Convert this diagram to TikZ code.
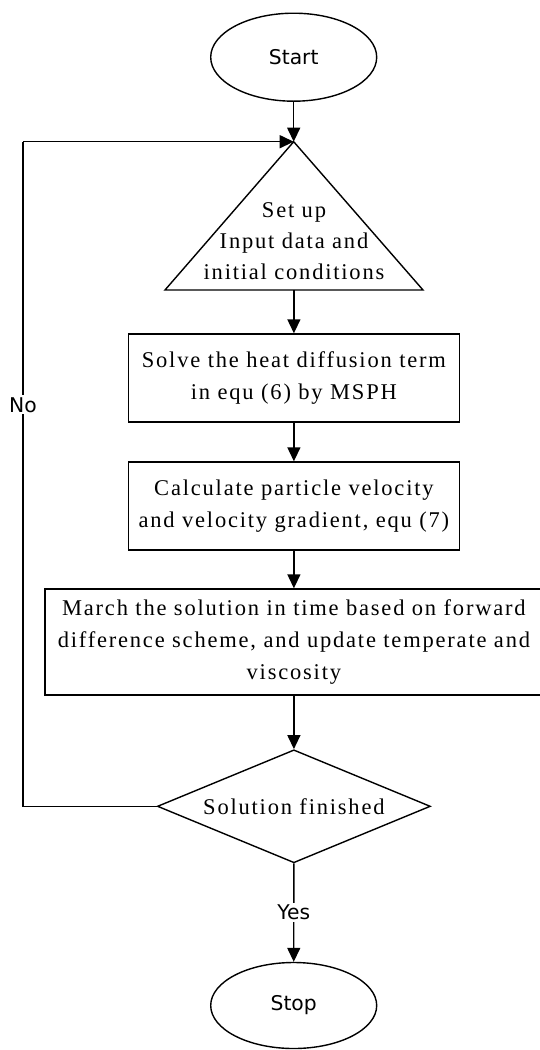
\documentclass[tikz,border=0pt]{standalone}
\usepackage{fontspec}
\usetikzlibrary{shapes.geometric,arrows.meta}
\newfontfamily\boxfont[LetterSpace=8]{Liberation Serif}
\newfontfamily\lblfont{DejaVu Sans}
\tikzset{
  base/.style={draw=black, line width=1.4pt},
  terminal/.style={base, ellipse, minimum width=166pt, minimum height=88pt, inner sep=0pt,
    font=\lblfont\fontsize{20.3}{24}\selectfont},
  proc/.style={base, rectangle, inner sep=0pt, align=center,
    font=\boxfont\fontsize{22.5}{32}\selectfont},
  txt/.style={inner sep=0pt, align=center, font=\boxfont\fontsize{22.5}{31}\selectfont},
  decision/.style={base, diamond, minimum width=273pt, minimum height=113pt, inner sep=0pt},
  lbl/.style={fill=white, inner sep=2pt, font=\lblfont\fontsize{20.3}{24}\selectfont},
  arr/.style={line width=1.4pt, -{Triangle[length=14pt,width=13pt]}},
  conn/.style={line width=1.4pt}
}
\begin{document}
\begin{tikzpicture}[x=1pt,y=-1pt]
\useasboundingbox (0,0) rectangle (539,1050);
\fill[white] (0,0) rectangle (539,1050);

\node[terminal] (start) at (293.7,57.2) {Start};

\coordinate (apex) at (293.7,141.7);
\coordinate (bl) at (165,290);
\coordinate (br) at (423,290);
\coordinate (tribase) at (293.9,290);
\draw[base, line join=miter] (apex) -- (bl) -- (br) -- cycle;
\node[txt] (setup) at (294,241) {Set up\\Input data and\\initial conditions};

\node[proc, minimum width=331pt, minimum height=88pt] (box1) at (293.9,378)
  {Solve the heat diffusion term\\in equ (6) by MSPH};
\node[proc, minimum width=331pt, minimum height=88pt] (box2) at (293.9,506)
  {Calculate particle velocity\\and velocity gradient, equ (7)};
\node[proc, minimum width=498pt, minimum height=106pt] (box3) at (293.9,642)
  {March the solution in time based on forward\\difference scheme, and update temperate and\\viscosity};
\node[decision] (dec) at (293.9,806.3) {};
\node[txt] (dect) at (293.9,806.3) {Solution finished};
\node[terminal, minimum height=86pt] (stop) at (293.7,1005.5) {Stop};

\coordinate (cl) at (23,806.3);
\coordinate (ct) at (23,141.7);

\draw[arr] (start) -- (apex);
\draw[arr] (tribase) -- (box1);
\draw[arr] (box1) -- (box2);
\draw[arr] (box2) -- (box3);
\draw[arr] (box3) -- (dec);
\draw[arr] (dec) -- node[lbl] {Yes} (stop);
\draw[conn] (dec.west) -- (cl) -- node[lbl, pos=0.604] {No} (ct);
\draw[arr] (ct) -- (apex);
\end{tikzpicture}
\end{document}
